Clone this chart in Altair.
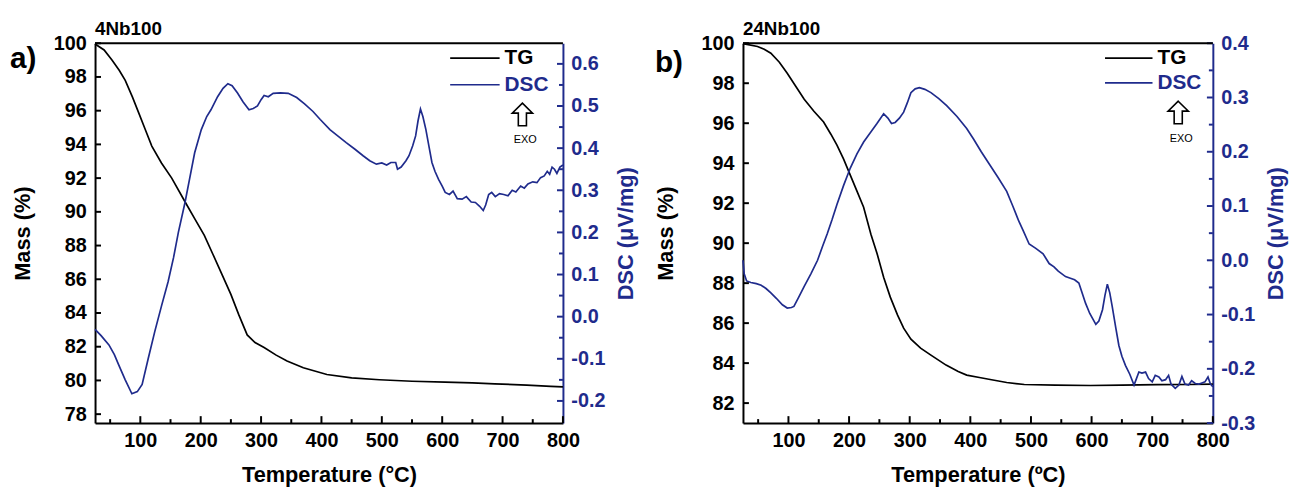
import altair as alt
import pandas as pd

NAVY = "#1f2b8c"
FONT = "Liberation Sans"

# ---------------- Panel a) 4Nb100 ----------------
a_tg_T = [25, 40, 53, 65, 75, 87, 97, 108, 119, 135, 152, 174, 190, 206, 220, 235, 250, 263, 277,
          290, 305, 325, 343, 370, 409, 450, 496, 550, 605, 650, 687, 740, 780, 800]
a_tg_mass = [99.95, 99.6, 99.0, 98.4, 97.8, 96.8, 95.9, 94.9, 93.9, 92.9, 92.0, 90.6, 89.6, 88.6, 87.5,
             86.3, 85.1, 83.9, 82.7, 82.25, 81.95, 81.5, 81.15, 80.75, 80.35, 80.15, 80.04, 79.95,
             79.9, 79.85, 79.8, 79.72, 79.65, 79.62]

a_dsc_T = [25, 35, 48, 57, 64, 75, 86, 95, 103, 113, 124, 135, 146, 155, 163, 174, 182, 190, 201, 210,
           217, 228, 237, 245, 252, 261, 270, 280, 287, 294, 300, 305, 312, 320, 332, 345, 359, 372,
           386, 398, 414, 428, 441, 455, 469, 480, 491, 500, 508, 515, 523, 526, 532, 540, 545, 551,
           556, 560, 564, 568, 573, 578, 583, 588, 594, 600, 605, 612, 618, 625, 633, 640, 648, 655,
           662, 668, 672, 677, 682, 688, 695, 702, 709, 716, 722, 730, 736, 742, 750, 757, 763, 769,
           774, 778, 782, 786, 790, 795, 800]
a_dsc_val = [-0.03, -0.045, -0.067, -0.09, -0.114, -0.15, -0.183, -0.178, -0.161, -0.10, -0.035, 0.025,
             0.083, 0.14, 0.20, 0.271, 0.33, 0.389, 0.444, 0.475, 0.491, 0.522, 0.542, 0.553, 0.548,
             0.531, 0.51, 0.491, 0.494, 0.50, 0.515, 0.525, 0.522, 0.53, 0.531, 0.53, 0.52, 0.505,
             0.487, 0.468, 0.444, 0.428, 0.413, 0.398, 0.382, 0.37, 0.362, 0.365, 0.36, 0.366, 0.366,
             0.35, 0.355, 0.37, 0.382, 0.405, 0.429, 0.465, 0.493, 0.475, 0.444, 0.405, 0.366, 0.345,
             0.326, 0.31, 0.295, 0.29, 0.298, 0.28, 0.279, 0.285, 0.272, 0.271, 0.262, 0.252, 0.265,
             0.29, 0.295, 0.285, 0.292, 0.29, 0.287, 0.30, 0.296, 0.31, 0.305, 0.315, 0.32, 0.318,
             0.33, 0.334, 0.345, 0.338, 0.355, 0.35, 0.34, 0.355, 0.36]

# ---------------- Panel b) 24Nb100 ----------------
b_tg_T = [25, 49, 60, 71, 85, 98, 112, 126, 142, 158, 170, 180, 191, 202, 213, 224, 236, 246, 257,
          268, 280, 290, 302, 318, 335, 360, 380, 394, 415, 435, 460, 489, 540, 598, 650, 708, 760, 800]
b_tg_mass = [99.98, 99.84, 99.7, 99.5, 99.05, 98.5, 97.85, 97.2, 96.6, 96.06, 95.45, 94.9, 94.2, 93.4,
             92.6, 91.8, 90.45, 89.5, 88.3, 87.3, 86.4, 85.75, 85.2, 84.75, 84.4, 83.9, 83.58, 83.4,
             83.28, 83.17, 83.03, 82.93, 82.9, 82.88, 82.9, 82.92, 82.93, 82.95]

b_dsc_T = [25, 27, 31, 38, 47, 55, 63, 71, 80, 90, 98, 105, 109, 117, 126, 137, 148, 156, 164, 172,
           180, 191, 202, 213, 224, 235, 246, 257, 264, 270, 276, 283, 290, 296, 302, 309, 316, 325,
           335, 348, 361, 378, 394, 405, 418, 432, 446, 460, 470, 480, 487, 497, 508, 520, 530, 538,
           545, 557, 565, 572, 579, 585, 590, 597, 602, 607, 612, 618, 622, 626, 630, 634, 640, 645,
           650, 656, 663, 670, 674, 678, 683, 689, 694, 700, 705, 711, 716, 722, 727, 731, 738, 744,
           749, 754, 760, 765, 771, 777, 782, 787, 792, 796, 800]
b_dsc_val = [0.0, -0.025, -0.038, -0.041, -0.043, -0.046, -0.052, -0.06, -0.07, -0.082, -0.088, -0.087,
             -0.085, -0.068, -0.048, -0.025, 0.0, 0.025, 0.049, 0.075, 0.103, 0.138, 0.17, 0.196,
             0.218, 0.235, 0.252, 0.27, 0.262, 0.252, 0.254, 0.262, 0.273, 0.29, 0.309, 0.316, 0.318,
             0.315, 0.309, 0.298, 0.285, 0.265, 0.243, 0.224, 0.20, 0.176, 0.152, 0.127, 0.10, 0.072,
             0.055, 0.03, 0.022, 0.012, -0.006, -0.012, -0.02, -0.03, -0.033, -0.036, -0.042, -0.062,
             -0.079, -0.098, -0.108, -0.118, -0.112, -0.091, -0.065, -0.044, -0.06, -0.085, -0.125,
             -0.157, -0.177, -0.194, -0.21, -0.23, -0.218, -0.206, -0.208, -0.206, -0.218, -0.224,
             -0.212, -0.215, -0.222, -0.22, -0.212, -0.228, -0.236, -0.23, -0.214, -0.228, -0.23,
             -0.222, -0.227, -0.228, -0.226, -0.224, -0.215, -0.228, -0.233]

# ---------------- Axis ticks ----------------
x_major = [100, 200, 300, 400, 500, 600, 700, 800]
x_minor = [50, 150, 250, 350, 450, 550, 650, 750]
a_mass_ticks = [78, 80, 82, 84, 86, 88, 90, 92, 94, 96, 98, 100]
a_dsc_major = [-0.2, -0.1, 0.0, 0.1, 0.2, 0.3, 0.4, 0.5, 0.6]
a_dsc_minor = [-0.15, -0.05, 0.05, 0.15, 0.25, 0.35, 0.45, 0.55]
b_mass_ticks = [82, 84, 86, 88, 90, 92, 94, 96, 98, 100]
b_dsc_major = [-0.3, -0.2, -0.1, 0.0, 0.1, 0.2, 0.3, 0.4]
b_dsc_minor = [-0.25, -0.15, -0.05, 0.05, 0.15, 0.25, 0.35]

ONE = pd.DataFrame({"k": [0]})
ARROW = "M0,-1 L0.9,-0.12 L0.36,-0.12 L0.36,1 L-0.36,1 L-0.36,-0.12 L-0.9,-0.12 Z"


def panel(tg_T, tg_m, dsc_T, dsc_v, mass_dom, mass_ticks, dsc_dom, dsc_major, dsc_minor,
          W, H, title, letter, letter_xy, xtitle, mass_tx, dsc_tx, leg):
    xs = alt.Scale(domain=[25, 800], nice=False, zero=False)
    ms = alt.Scale(domain=mass_dom, nice=False, zero=False)
    ds = alt.Scale(domain=dsc_dom, nice=False, zero=False)

    tg = alt.Chart(pd.DataFrame({"T": tg_T, "mass": tg_m})).mark_line(
        color="black", strokeWidth=1.7).encode(
        x=alt.X("T:Q", scale=xs, axis=alt.Axis(
            title=xtitle, values=x_major, format="d", labelFlush=False, labelOverlap=False,
            ticks=False, domainColor="black", domainWidth=2, labelPadding=8, labelColor="black",
            titleX=W / 2, titleY=52, titleBaseline="middle", titleAlign="center", titleColor="black")),
        y=alt.Y("mass:Q", scale=ms, axis=alt.Axis(
            title="Mass (%)", orient="left", values=mass_ticks, format="d", labelFlush=False,
            labelOverlap=False, ticks=False, domainColor="black", domainWidth=2, labelPadding=9,
            labelColor="black", titleX=mass_tx, titleY=H / 2, titleAngle=270,
            titleBaseline="middle", titleAlign="center", titleColor="black")),
    )
    dsc = alt.Chart(pd.DataFrame({"T": dsc_T, "dsc": dsc_v})).mark_line(
        color=NAVY, strokeWidth=1.7).encode(
        x=alt.X("T:Q", scale=xs),
        y=alt.Y("dsc:Q", scale=ds, axis=alt.Axis(
            title="DSC (\u03bcV/mg)", orient="right", values=dsc_major,
            labelExpr="replace(format(datum.value, '.1f'), '\u2212', '-')",
            labelFlush=False, labelOverlap=False, ticks=False, domainColor=NAVY, domainWidth=2,
            labelPadding=8, labelColor=NAVY, titleColor=NAVY, titleX=dsc_tx, titleY=H / 2,
            titleAngle=270, titleBaseline="middle", titleAlign="center")),
    )
    xmaj = alt.Chart(pd.DataFrame({"T": x_major})).mark_rule(color="black", strokeWidth=2).encode(
        x=alt.X("T:Q", scale=xs), y=alt.value(H), y2=alt.value(H - 7))
    xmin = alt.Chart(pd.DataFrame({"T": x_minor})).mark_rule(color="black", strokeWidth=2).encode(
        x=alt.X("T:Q", scale=xs), y=alt.value(H), y2=alt.value(H - 4))
    mtick = alt.Chart(pd.DataFrame({"mass": mass_ticks})).mark_rule(color="black", strokeWidth=2).encode(
        y=alt.Y("mass:Q", scale=ms, axis=None), x=alt.value(0), x2=alt.value(6))
    dmaj = alt.Chart(pd.DataFrame({"dsc": dsc_major})).mark_rule(color=NAVY, strokeWidth=2).encode(
        y=alt.Y("dsc:Q", scale=ds, axis=None), x=alt.value(W - 6), x2=alt.value(W))
    dmin = alt.Chart(pd.DataFrame({"dsc": dsc_minor})).mark_rule(color=NAVY, strokeWidth=2).encode(
        y=alt.Y("dsc:Q", scale=ds, axis=None), x=alt.value(W - 4), x2=alt.value(W))
    top = alt.Chart(ONE).mark_rule(color="black", strokeWidth=2).encode(
        x=alt.value(0), x2=alt.value(W), y=alt.value(0))

    lx0, lx1, ly1, ly2, ax, ay, ex, ey = leg
    lab = alt.Chart(ONE).mark_text(text=letter, font=FONT, fontSize=30, fontWeight="bold",
                                   align="left", baseline="middle", color="black").encode(
        x=alt.value(letter_xy[0]), y=alt.value(letter_xy[1]))
    l_tg = alt.Chart(ONE).mark_rule(color="black", strokeWidth=1.7).encode(
        x=alt.value(lx0), x2=alt.value(lx1), y=alt.value(ly1))
    l_dsc = alt.Chart(ONE).mark_rule(color=NAVY, strokeWidth=1.7).encode(
        x=alt.value(lx0), x2=alt.value(lx1), y=alt.value(ly2))
    t_tg = alt.Chart(ONE).mark_text(text="TG", font=FONT, fontSize=21, fontWeight="bold",
                                    align="left", baseline="middle", color="black").encode(
        x=alt.value(lx1 + 5), y=alt.value(ly1))
    t_dsc = alt.Chart(ONE).mark_text(text="DSC", font=FONT, fontSize=21, fontWeight="bold",
                                     align="left", baseline="middle", color=NAVY).encode(
        x=alt.value(lx1 + 5), y=alt.value(ly2))
    arrow = alt.Chart(ONE).mark_point(shape=ARROW, size=520, filled=False, color="black",
                                      strokeWidth=1.6, opacity=1).encode(
        x=alt.value(ax), y=alt.value(ay))
    exo = alt.Chart(ONE).mark_text(text="EXO", font=FONT, fontSize=11,
                                   align="center", baseline="middle", color="black").encode(
        x=alt.value(ex), y=alt.value(ey))

    return alt.layer(tg, dsc, xmaj, xmin, mtick, dmaj, dmin, top, lab, l_tg, l_dsc, t_tg, t_dsc,
                     arrow, exo).resolve_scale(y="independent").properties(
        width=W, height=H,
        title=alt.Title(title, anchor="start", frame="group", fontSize=19, fontWeight="bold",
                        font=FONT, color="black", offset=-6))


left = panel(a_tg_T, a_tg_mass, a_dsc_T, a_dsc_val, [77.47, 100], a_mass_ticks, [-0.2526, 0.649],
             a_dsc_major, a_dsc_minor, 473, 384, "4Nb100", "a)", (-86, 16),
             "Temperature (\u00b0C)", -73, 63, (359, 409, 15, 42, 432, 72, 435, 98))
right = panel(b_tg_T, b_tg_mass, b_dsc_T, b_dsc_val, [81, 100], b_mass_ticks, [-0.3, 0.4],
              b_dsc_major, b_dsc_minor, 475, 384, "24Nb100", "b)", (-89, 20),
              "Temperature (\u00baC)", -78, 63, (366, 414, 15, 40, 440, 70, 443, 97))

chart = alt.hconcat(left, right, spacing=19).properties(
    padding={"left": 2, "top": 10, "right": 4, "bottom": 0}
).configure_view(stroke=None).configure_axis(
    labelFont=FONT, titleFont=FONT, labelFontSize=20, titleFontSize=22,
    labelFontWeight="bold", titleFontWeight="bold", grid=False
)

chart.save("out.html", embed_options={"renderer": "svg", "actions": False})
